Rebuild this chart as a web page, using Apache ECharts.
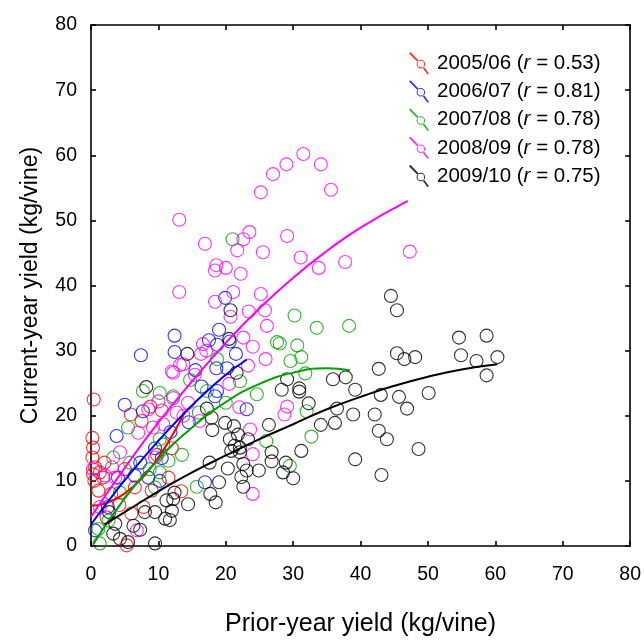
<!DOCTYPE html>
<html>
<head>
<meta charset="utf-8">
<script src="https://cdn.jsdelivr.net/npm/echarts@6/dist/echarts.min.js"></script>
<style>html,body{margin:0;padding:0;background:#fff}#c{width:644px;height:642px}</style>
</head>
<body>
<div id="c"></div>
<script>
// ---- data ----
const seasons = ['2005/06', '2006/07', '2007/08', '2008/09', '2009/10'];
const rValues = ['0.53', '0.81', '0.78', '0.78', '0.75'];
const colors = ['#ff0000', '#0000ff', '#00a000', '#ff00ff', '#000000'];
const xTicks = [0, 10, 20, 30, 40, 50, 60, 70, 80];
const yTicks = [0, 10, 20, 30, 40, 50, 60, 70, 80];

const pts0506 = [[0.4,22.5],[0.2,16.6],[0.3,15.1],[0.2,13.6],[0.6,12.1],[0.3,11.0],[1.3,11.3],[1.8,10.5],[0.5,10.0],[1.1,8.5],[2.3,4.4],[5.0,11.8],[5.9,20.2],[7.5,19.2],[6.5,9.0],[13.4,8.4],[5.3,0.1],[8.8,21.4],[4.2,6.3],[3.0,8.0],[9.8,14.0],[11.5,10.5],[7.8,6.0],[10.5,20.8],[12.0,15.0],[2.0,12.8],[6.0,5.0],[9.0,8.5]];
const pts0607 = [[7.4,29.3],[12.4,32.3],[12.4,29.8],[19.9,38.1],[19.0,33.2],[17.5,31.6],[18.7,30.9],[20.6,31.4],[18.6,27.3],[20.2,27.3],[16.4,24.5],[18.4,23.0],[23.1,21.0],[16.9,9.8],[5.0,21.7],[7.7,20.7],[3.8,16.9],[7.3,12.8],[6.5,10.8],[8.5,10.5],[10.2,10.0],[0.6,2.4],[11.8,17.5],[9.5,15.0],[14.5,19.0],[10.5,13.5],[2.5,6.0],[4.0,10.5],[21.5,29.5],[15.5,27.0],[18.7,23.8]];
const pts0708 = [[21.0,47.1],[30.2,35.4],[33.5,33.5],[38.3,33.8],[28.0,31.1],[30.6,30.8],[31.2,29.0],[29.6,28.4],[31.8,26.5],[32.0,20.7],[32.7,16.8],[29.5,12.3],[27.6,31.3],[18.7,28.7],[22.1,25.3],[14.7,25.5],[17.2,23.8],[24.6,23.3],[26.0,16.1],[15.7,9.1],[7.7,23.8],[10.2,23.5],[12.2,23.0],[5.5,18.2],[10.2,16.4],[3.3,13.6],[5.8,12.8],[10.7,15.6],[11.5,13.1],[8.7,11.8],[10.2,11.3],[9.5,9.0],[4.3,8.2],[1.1,2.6],[2.6,3.9],[1.3,0.4],[20.0,22.0],[16.0,20.5],[13.5,14.0]];
const pts0809 = [[29.0,58.6],[31.5,60.2],[34.1,58.6],[35.6,54.7],[29.1,47.6],[31.1,44.3],[33.8,42.7],[37.7,43.6],[47.3,45.2],[27.0,57.1],[25.2,54.3],[13.1,50.1],[23.5,48.2],[22.6,47.1],[21.7,45.4],[16.9,46.4],[25.5,45.1],[18.6,43.1],[20.0,42.7],[18.4,42.3],[22.2,41.8],[13.1,39.0],[21.1,39.0],[25.2,38.7],[18.4,37.5],[20.7,35.2],[23.4,36.0],[25.8,36.2],[26.1,33.8],[22.6,32.0],[16.6,31.0],[24.0,30.6],[12.2,26.6],[13.2,27.8],[16.3,29.5],[17.1,30.0],[25.9,28.7],[13.7,27.9],[12.0,26.8],[23.3,27.7],[20.5,24.9],[15.4,26.3],[22.0,21.3],[14.4,22.0],[12.7,20.5],[13.7,20.0],[16.1,19.2],[23.6,17.9],[24.0,14.1],[24.0,8.0],[29.1,21.4],[28.7,20.2],[8.5,21.0],[10.0,22.2],[12.2,22.7],[7.0,17.4],[9.2,18.2],[10.7,18.7],[4.3,14.4],[9.5,13.6],[0.3,11.8],[3.1,12.1],[2.1,10.8],[3.6,10.5],[1.3,6.0],[6.8,2.4]];
const pts0910 = [[20.7,36.2],[20.5,31.8],[44.5,38.4],[45.4,36.2],[45.4,29.6],[46.5,28.7],[42.7,27.2],[29.1,25.6],[35.9,25.6],[37.8,25.9],[28.3,24.0],[30.9,24.2],[30.9,23.7],[39.2,24.0],[43.0,23.2],[45.7,22.9],[46.9,21.1],[32.3,21.9],[36.5,21.1],[38.9,20.2],[42.1,20.2],[34.1,18.6],[36.2,18.9],[42.7,17.7],[43.9,16.4],[31.2,14.6],[39.2,13.3],[28.9,12.8],[28.5,11.3],[30.0,10.4],[43.1,10.9],[54.6,32.0],[58.7,32.3],[54.9,29.3],[57.2,28.4],[60.3,29.0],[58.7,26.2],[48.1,29.0],[50.1,23.5],[48.6,14.9],[14.3,29.5],[21.6,26.6],[17.2,21.1],[17.9,19.7],[18.0,17.8],[19.9,18.9],[21.2,18.4],[26.4,18.6],[21.8,17.1],[23.3,16.4],[20.6,16.4],[21.3,15.4],[20.8,14.6],[22.1,15.1],[22.1,14.4],[26.8,14.4],[26.8,13.0],[20.3,11.9],[22.6,12.6],[23.1,11.6],[24.9,11.6],[22.3,10.6],[22.6,9.1],[19.0,9.8],[17.7,8.0],[18.5,6.7],[14.4,6.4],[12.2,7.2],[12.0,5.4],[11.7,4.0],[12.4,8.2],[17.6,12.8],[8.2,24.4],[11.2,7.0],[8.0,5.2],[9.5,5.2],[11.0,4.2],[2.7,5.2],[3.6,3.4],[6.3,3.1],[7.3,2.5],[3.3,1.9],[4.3,1.1],[5.5,0.6],[9.5,0.4]];

// fitted curves
const fit0506 = [[0,6.2],[2,6.5],[4,7.4],[6,8.9],[8,10.9],[10,13.6],[12,16.9],[14,20.7]];
const fit0607 = [[0,3.3],[4,8.8],[8,13.8],[12,18.4],[16,22.6],[20,26.3],[23.1,28.6]];
const fit0708 = [[0.3,0.2],[5,7.3],[10,13.3],[15,18.2],[20,22.1],[25,24.9],[30,26.6],[35,27.3],[38.4,27.0]];
const fit0809 = [[0,4.5],[5,12.0],[10,19.0],[15,25.3],[20,31.2],[25,36.5],[30,41.2],[35,45.3],[40,48.9],[47,53.0]];
const fit0910 = [[2,3.3],[5,5.2],[10,8.4],[15,11.3],[20,13.9],[25,16.4],[30,18.7],[35,21.0],[40,22.9],[45,24.6],[50,26.0],[55,27.1],[60.3,27.9]];

const points = [pts0506, pts0607, pts0708, pts0809, pts0910];
const fits = [fit0506, fit0607, fit0708, fit0809, fit0910];

// ---- chart ----
const FONT = '"Liberation Sans", Arial, sans-serif';
const chart = echarts.init(document.getElementById('c'), null, {renderer: 'canvas'});

const iconPath = 'path://M-0.75,0.75 L0.75,-0.75 L9.9,8.7 L8.5,10.1 Z ' +
  'M15.1,14.9 L20.8,22.4 L19.3,23.5 L13.6,16.0 Z ' +
  'M16.6,12.3 A4.6,4.6 0 1 0 7.4,12.3 A4.6,4.6 0 1 0 16.6,12.3 Z ' +
  'M15.5,12.3 A3.5,3.5 0 1 1 8.5,12.3 A3.5,3.5 0 1 1 15.5,12.3 Z';

const axisCommon = {
  type: 'value', min: 0, max: 80, interval: 10,
  axisLine: {show: true, onZero: false, lineStyle: {color: '#000', width: 1.6}},
  axisTick: {show: true, inside: true, length: 5, lineStyle: {color: '#000', width: 1.6}},
  splitLine: {show: false}
};

const series = [];
seasons.forEach((s, i) => {
  series.push({
    name: s, type: 'scatter', data: points[i], symbol: 'circle', symbolSize: 13,
    itemStyle: {color: 'rgba(0,0,0,0)', borderColor: colors[i], borderWidth: 1.1},
    emphasis: {disabled: true}, z: 2
  });
});
seasons.forEach((s, i) => {
  series.push({
    name: 'fit ' + s, type: 'line', data: fits[i], smooth: true, showSymbol: false,
    lineStyle: {color: colors[i], width: 2}, emphasis: {disabled: true}, z: 3
  });
});

chart.setOption({
  animation: false,
  backgroundColor: '#fff',
  grid: {left: 91, right: 13, top: 25, bottom: 93},
  xAxis: [
    Object.assign({}, axisCommon, {
      position: 'bottom',
      axisLabel: {fontFamily: FONT, fontSize: 19.5, color: '#000', margin: 19,
        formatter: v => xTicks.includes(v) ? String(v) : ''},
      name: 'Prior-year yield (kg/vine)', nameLocation: 'middle', nameGap: 66,
      nameTextStyle: {fontFamily: FONT, fontSize: 25, color: '#000'}
    }),
    Object.assign({}, axisCommon, {position: 'top', axisLabel: {show: false}})
  ],
  yAxis: [
    Object.assign({}, axisCommon, {
      position: 'left',
      axisLabel: {fontFamily: FONT, fontSize: 19.5, color: '#000', margin: 14,
        formatter: v => yTicks.includes(v) ? String(v) : ''},
      name: 'Current-year yield (kg/vine)', nameLocation: 'middle', nameGap: 49,
      nameTextStyle: {fontFamily: FONT, fontSize: 23, color: '#000'}
    }),
    Object.assign({}, axisCommon, {position: 'right', axisLabel: {show: false}})
  ],
  legend: {
    orient: 'vertical', left: 404, top: 47, itemWidth: 20, itemHeight: 23, itemGap: 5.7,
    data: seasons.map((s, i) => ({name: s, icon: iconPath, itemStyle: {color: colors[i], borderWidth: 0}})),
    formatter: name => {
      const i = seasons.indexOf(name);
      return '{a|' + name + ' (}{i|r}{a| = ' + rValues[i] + ')}';
    },
    textStyle: {
      fontFamily: FONT, fontSize: 20.5, color: '#000', padding: [0, 0, 0, 3],
      rich: {
        a: {fontFamily: FONT, fontSize: 20.5, color: '#000'},
        i: {fontFamily: FONT, fontSize: 20.5, color: '#000', fontStyle: 'italic'}
      }
    },
    selectedMode: false
  },
  series: series
});
</script>
</body>
</html>
